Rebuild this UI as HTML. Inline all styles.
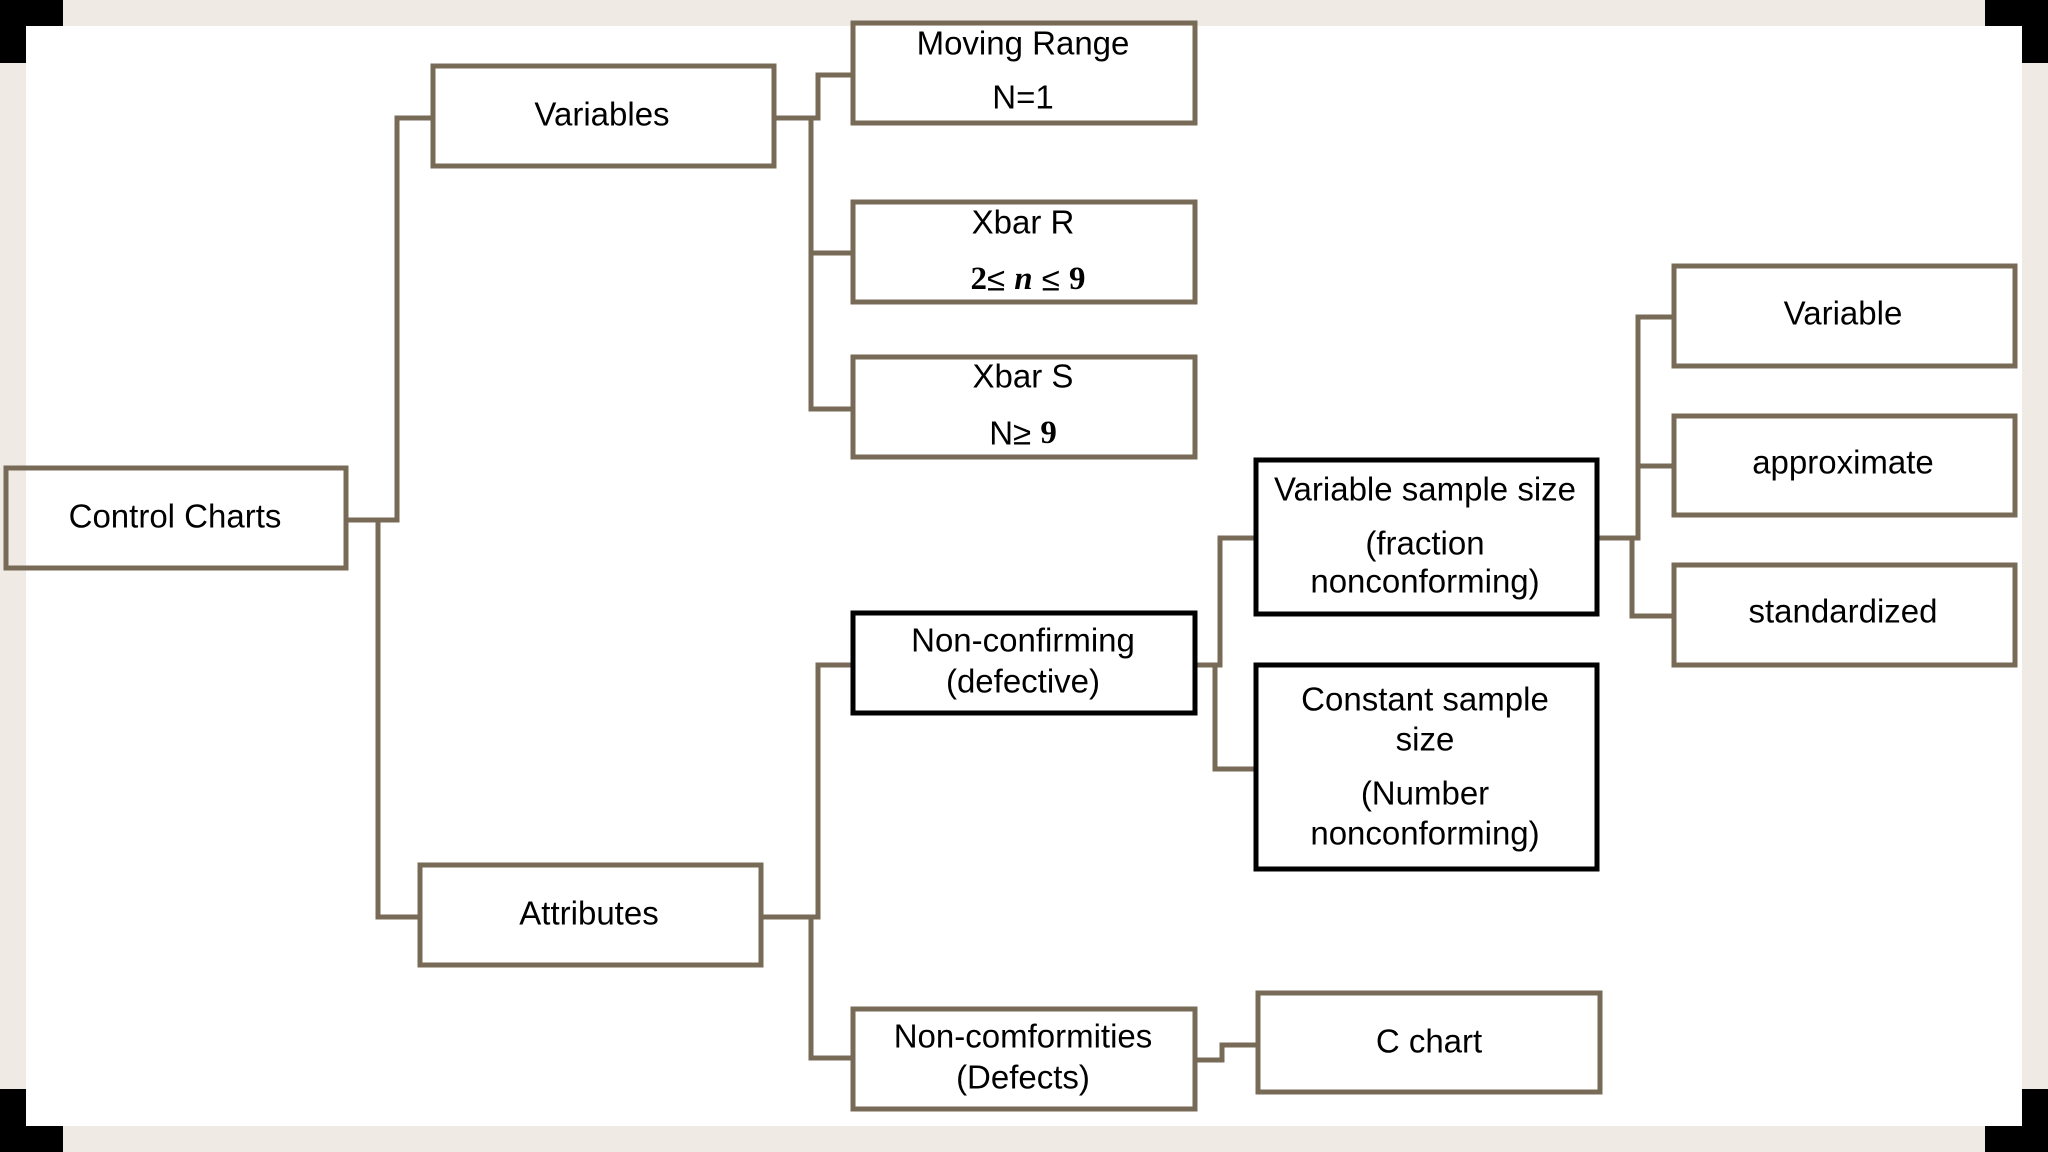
<!DOCTYPE html>
<html><head><meta charset="utf-8"><style>
html,body{margin:0;padding:0;background:#efebe4;}
svg{display:block;}
text{font-family:"Liberation Sans",sans-serif;font-size:33px;fill:#000;text-anchor:middle;dominant-baseline:central;}
.m{font-family:"Liberation Serif",serif;font-weight:bold;}
</style></head><body>
<svg width="2048" height="1152" viewBox="0 0 2048 1152" xmlns="http://www.w3.org/2000/svg">
<rect x="0" y="0" width="2048" height="1152" fill="#efebe4"/>
<rect x="26" y="26" width="1996" height="1100" fill="#fff"/>
<g fill="#000">
<rect x="0" y="0" width="63" height="26"/><rect x="0" y="0" width="26" height="63"/>
<rect x="1985" y="0" width="63" height="26"/><rect x="2022" y="0" width="26" height="63"/>
<rect x="0" y="1126" width="63" height="26"/><rect x="0" y="1089" width="26" height="63"/>
<rect x="1985" y="1126" width="63" height="26"/><rect x="2022" y="1089" width="26" height="63"/>
</g>
<g fill="none" stroke="#776b57" stroke-width="5">
<!-- Control charts -->
<polyline points="346,520 397,520 397,118 431,118"/>
<polyline points="378,520 378,917 418,917"/>
<!-- Variables -->
<polyline points="774,118 818,118 818,75 851,75"/>
<polyline points="811,118 811,409 851,409"/>
<line x1="811" y1="253" x2="851" y2="253"/>
<!-- Attributes -->
<polyline points="761,917 818,917 818,665 851,665"/>
<polyline points="811,917 811,1058 851,1058"/>
<!-- Non-confirming -->
<polyline points="1195,665 1220,665 1220,538 1254,538"/>
<polyline points="1215,665 1215,769 1254,769"/>
<!-- Variable sample size -->
<polyline points="1597,538 1638,538 1638,317 1672,317"/>
<line x1="1638" y1="466" x2="1672" y2="466"/>
<polyline points="1632,538 1632,616 1672,616"/>
<!-- Non-comformities -->
<polyline points="1195,1060 1222,1060 1222,1045 1256,1045"/>
<!-- boxes -->
<rect x="6" y="468" width="340" height="100"/>
<rect x="433" y="66" width="341" height="100"/>
<rect x="853" y="23" width="342" height="100"/>
<rect x="853" y="202" width="342" height="100"/>
<rect x="853" y="357" width="342" height="100"/>
<rect x="420" y="865" width="341" height="100"/>
<rect x="853" y="1009" width="342" height="100"/>
<rect x="1258" y="993" width="342" height="99"/>
<rect x="1674" y="266" width="341" height="100"/>
<rect x="1674" y="416" width="341" height="99"/>
<rect x="1674" y="565" width="341" height="100"/>
</g>
<g fill="none" stroke="#000" stroke-width="5">
<rect x="853" y="613" width="342" height="100"/>
<rect x="1256" y="460" width="341" height="154"/>
<rect x="1256" y="665" width="341" height="204"/>
</g>
<text x="175" y="516">Control Charts</text>
<text x="602" y="114">Variables</text>
<text x="1023" y="43">Moving Range</text>
<text x="1023" y="97">N=1</text>
<text x="1023" y="222">Xbar R</text>
<text x="1028" y="279"><tspan class="m">2</tspan>≤ <tspan class="m" font-style="italic">n</tspan> ≤ <tspan class="m">9</tspan></text>
<text x="1023" y="376">Xbar S</text>
<text x="1023" y="433">N≥ <tspan class="m">9</tspan></text>
<text x="589" y="913">Attributes</text>
<text x="1023" y="640">Non-confirming</text>
<text x="1023" y="681">(defective)</text>
<text x="1023" y="1036">Non-comformities</text>
<text x="1023" y="1077">(Defects)</text>
<text x="1425" y="489">Variable sample size</text>
<text x="1425" y="543">(fraction</text>
<text x="1425" y="581">nonconforming)</text>
<text x="1425" y="699">Constant sample</text>
<text x="1425" y="739">size</text>
<text x="1425" y="793">(Number</text>
<text x="1425" y="833">nonconforming)</text>
<text x="1429" y="1041">C chart</text>
<text x="1843" y="313">Variable</text>
<text x="1843" y="462">approximate</text>
<text x="1843" y="611">standardized</text>
</svg>
</body></html>
